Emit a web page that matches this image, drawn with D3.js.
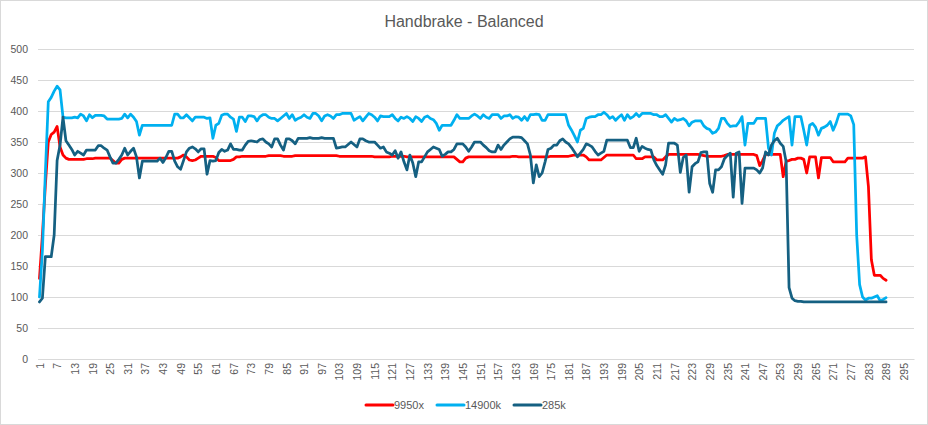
<!DOCTYPE html>
<html>
<head>
<meta charset="utf-8">
<script src="https://cdn.jsdelivr.net/npm/d3@7"></script>
<style>
  html, body { margin: 0; padding: 0; background: #fff; }
  svg { display: block; font-family: "Liberation Sans", Arial, sans-serif; }
</style>
</head>
<body>
<svg id="chart" width="928" height="425"></svg>
<script>
// ---------- DATA ----------
const title = "Handbrake - Balanced";
const categories = d3.range(1, 299); // category labels 1..298 on the axis
const seriesNames = ["9950x", "14900k", "285k"];
const seriesColors = ["#FF0000", "#00B0F0", "#156082"];
const yTicks = [0, 50, 100, 150, 200, 250, 300, 350, 400, 450, 500];
const xLabelStep = 6;

const s9950x = [
  130, 200, 280, 350, 362, 366, 375, 342, 329, 324,
  322, 322, 322, 322, 322, 322, 323, 323, 323, 324,
  324, 324, 324, 324, 324, 320, 316, 316, 322, 324,
  324, 324, 324, 324, 324, 324, 324, 324, 324, 324,
  324, 324, 324, 324, 324, 324, 324, 324, 326, 329,
  326, 321, 320, 321, 324, 327, 327, 327, 327, 327,
  325, 320, 320, 320, 320, 320, 322, 326, 326, 327,
  327, 327, 327, 327, 327, 327, 327, 327, 328, 328,
  328, 328, 328, 327, 327, 327, 327, 328, 328, 328,
  328, 328, 328, 328, 328, 328, 328, 328, 328, 328,
  328, 328, 327, 327, 327, 327, 327, 327, 327, 327,
  327, 327, 327, 327, 326, 326, 326, 326, 326, 326,
  327, 327, 327, 327, 327, 326, 326, 326, 326, 326,
  326, 326, 326, 326, 326, 326, 326, 326, 326, 326,
  326, 326, 322, 318, 318, 324, 326, 326, 326, 326,
  326, 326, 326, 326, 326, 326, 326, 326, 326, 326,
  326, 327, 327, 326, 326, 326, 326, 326, 326, 326,
  326, 326, 326, 326, 327, 327, 327, 327, 327, 327,
  327, 328, 329, 329, 329, 329, 326, 321, 321, 321,
  321, 321, 325, 329, 329, 329, 329, 329, 329, 329,
  329, 329, 329, 323, 323, 323, 326, 326, 326, 326,
  321, 321, 321, 326, 330, 330, 330, 330, 330, 330,
  330, 330, 330, 330, 330, 329, 328, 327, 327, 327,
  327, 327, 327, 328, 330, 330, 330, 330, 330, 330,
  330, 330, 330, 330, 328, 312, 320, 330, 330, 330,
  330, 330, 330, 294, 319, 320, 322, 322, 324, 324,
  322, 300, 326, 326, 326, 292, 325, 325, 325, 325,
  318, 318, 318, 318, 318, 324, 324, 324, 324, 324,
  324, 326, 278, 160, 135, 135, 135, 130, 127
];

const s14900k = [
  100, 175, 300, 415, 422, 432, 440, 434, 390, 389,
  389, 389, 390, 389, 395, 392, 384, 394, 389, 393,
  393, 393, 392, 387, 387, 387, 387, 387, 388, 395,
  389, 395, 390, 383, 361, 377, 377, 377, 377, 377,
  377, 377, 377, 377, 377, 377, 395, 395, 389, 389,
  394, 389, 384, 390, 390, 390, 390, 388, 389, 356,
  377, 380, 393, 395, 395, 390, 387, 367, 390, 390,
  383, 392, 392, 391, 384, 391, 394, 394, 390, 388,
  388, 384, 388, 392, 396, 388, 394, 385, 388, 390,
  394, 390, 388, 396, 396, 392, 384, 392, 394, 392,
  388, 394, 394, 396, 396, 396, 396, 385, 388, 391,
  384, 390, 396, 394, 390, 384, 392, 391, 391, 391,
  394, 388, 384, 390, 388, 391, 388, 383, 391, 388,
  383, 390, 392, 388, 386, 380, 369, 377, 377, 377,
  377, 385, 394, 388, 388, 388, 388, 392, 395, 392,
  388, 394, 390, 388, 394, 394, 394, 388, 392, 392,
  394, 388, 391, 390, 385, 391, 385, 394, 394, 395,
  394, 385, 385, 394, 394, 394, 394, 394, 394, 394,
  377, 369, 360, 350, 369, 372, 388, 390, 391, 391,
  394, 394, 398, 394, 388, 391, 385, 390, 394, 385,
  394, 388, 391, 396, 391, 396, 396, 396, 396, 394,
  394, 391, 391, 394, 388, 382, 388, 385, 386, 388,
  384, 376, 382, 384, 384, 384, 376, 372, 370, 364,
  366, 372, 388, 388, 380, 375, 376, 376, 382, 391,
  345, 380, 380, 380, 388, 388, 388, 388, 340, 329,
  364, 376, 380, 385, 388, 391, 345, 391, 391, 391,
  369, 345, 377, 380, 374, 361, 372, 374, 377, 383,
  369, 380, 395, 395, 395, 395, 392, 378, 200, 120,
  100, 95, 98, 98, 100, 102, 94, 96, 99
];

const s285k = [
  92, 98, 165, 165, 165, 200, 320, 345, 390, 352,
  345, 338, 329, 335, 332, 329, 337, 337, 337, 337,
  344, 344, 340, 337, 326, 316, 316, 322, 329, 340,
  329, 335, 340, 326, 292, 319, 319, 319, 319, 319,
  319, 324, 317, 325, 335, 335, 319, 310, 306, 320,
  334, 340, 342, 339, 334, 339, 339, 298, 320, 319,
  320, 333, 338, 335, 337, 347, 338, 338, 337, 337,
  345, 351, 352, 351, 350, 354, 355, 350, 347, 342,
  355, 355, 345, 337, 355, 355, 352, 347, 356, 356,
  356, 356, 357, 356, 356, 356, 357, 356, 356, 356,
  356, 340, 341, 342, 342, 346, 350, 346, 342, 355,
  355, 352, 350, 350, 350, 345, 340, 342, 334, 332,
  329, 336, 324, 334, 318, 305, 329, 316, 294, 318,
  318, 326, 334, 338, 342, 340, 338, 327, 330, 334,
  334, 338, 347, 347, 347, 342, 335, 342, 350, 350,
  350, 345, 341, 336, 334, 334, 345, 338, 345, 350,
  355, 358, 358, 358, 357, 352, 347, 329, 284, 313,
  294, 300, 318, 338, 340, 345, 345, 352, 355, 350,
  347, 341, 334, 326, 332, 338, 347, 345, 342, 335,
  329, 332, 335, 353, 353, 353, 353, 353, 353, 353,
  353, 341, 341, 356, 335, 343, 340, 338, 337, 321,
  312, 305, 298, 313, 348, 348, 348, 345, 301, 325,
  329, 269, 310, 315, 318, 333, 334, 334, 283, 269,
  305, 305, 310, 323, 328, 332, 261, 332, 334, 251,
  308, 308, 308, 308, 305, 300, 308, 334, 329, 345,
  352, 356, 348, 343, 318, 115, 98, 94, 93, 93,
  92, 92, 92, 92, 92, 92, 92, 92, 92, 92,
  92, 92, 92, 92, 92, 92, 92, 92, 92, 92,
  92, 92, 92, 92, 92, 92, 92, 92, 92
];

const seriesValues = [s9950x, s14900k, s285k];

// ---------- CHART ----------
const W = 928, H = 425;
const plot = { left: 38, right: 914, top: 49, bottom: 359 };
const textColor = "#595959";
const gridColor = "#D9D9D9";

const svg = d3.select("#chart");

svg.append("rect")
  .attr("x", 0.5).attr("y", 0.5)
  .attr("width", W - 1).attr("height", H - 1)
  .attr("fill", "#fff").attr("stroke", gridColor);

svg.append("text")
  .attr("x", 464).attr("y", 27)
  .attr("text-anchor", "middle")
  .attr("fill", textColor)
  .style("font-size", "16px")
  .text(title);

const x = d3.scalePoint()
  .domain(categories)
  .range([plot.left, plot.right])
  .padding(0.5);

const y = d3.scaleLinear()
  .domain([0, 500])
  .range([plot.bottom, plot.top]);

// y axis + gridlines
const yAxis = svg.append("g")
  .attr("transform", `translate(${plot.left},0)`)
  .call(d3.axisLeft(y).tickValues(yTicks).tickSize(-(plot.right - plot.left)).tickPadding(10));
yAxis.select(".domain").remove();
yAxis.selectAll(".tick line").attr("stroke", gridColor);
yAxis.selectAll(".tick text")
  .attr("fill", textColor)
  .style("font-size", "10.5px")
  .style("font-family", "'Liberation Sans', Arial, sans-serif");

// x axis
const xAxis = svg.append("g")
  .attr("transform", `translate(0,${plot.bottom})`)
  .call(d3.axisBottom(x)
    .tickValues(categories.filter((c, i) => i % xLabelStep === 0))
    .tickSize(0));
xAxis.select(".domain").attr("stroke", gridColor);
xAxis.selectAll(".tick text")
  .attr("fill", textColor)
  .style("font-size", "10.5px")
  .style("font-family", "'Liberation Sans', Arial, sans-serif")
  .attr("transform", "rotate(-90)")
  .attr("x", -4)
  .attr("y", 0)
  .attr("dy", "0.35em")
  .style("text-anchor", "end");

// lines
const line = d3.line()
  .x((d, i) => x(categories[i]))
  .y(d => y(d));

seriesValues.forEach((vals, k) => {
  svg.append("path")
    .datum(vals)
    .attr("fill", "none")
    .attr("stroke", seriesColors[k])
    .attr("stroke-width", 2.75)
    .attr("stroke-linejoin", "round")
    .attr("stroke-linecap", "round")
    .attr("d", line);
});

// legend
const legendItems = [
  { x: 366, tx: 394 },
  { x: 437, tx: 465 },
  { x: 514, tx: 542 }
];
const legend = svg.append("g").attr("transform", "translate(0,405)");
seriesNames.forEach((name, k) => {
  legend.append("line")
    .attr("x1", legendItems[k].x).attr("x2", legendItems[k].x + 27)
    .attr("y1", 0).attr("y2", 0)
    .attr("stroke", seriesColors[k])
    .attr("stroke-width", 3)
    .attr("stroke-linecap", "round");
  legend.append("text")
    .attr("x", legendItems[k].tx).attr("y", 0)
    .attr("dy", "0.35em")
    .attr("fill", textColor)
    .style("font-size", "11px")
    .text(name);
});
</script>
</body>
</html>
